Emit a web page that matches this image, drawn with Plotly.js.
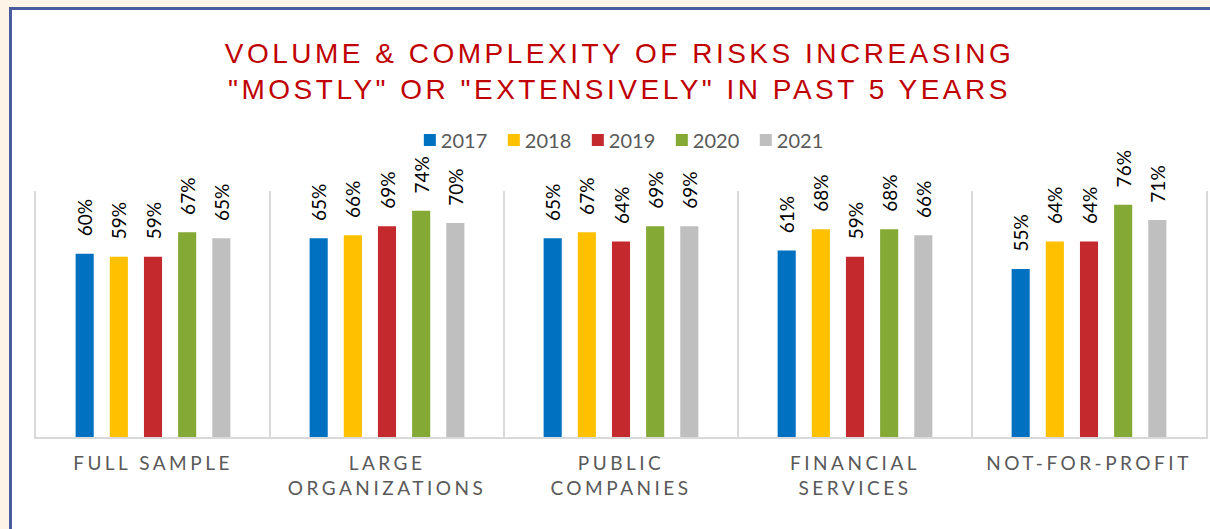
<!DOCTYPE html>
<html>
<head>
<meta charset="utf-8">
<script src="https://cdn.plot.ly/plotly-3.0.1.min.js"></script>
<style>
  html, body { margin: 0; padding: 0; width: 1210px; height: 529px; overflow: hidden; background: #fdf4e7; }
  #panel { position: absolute; left: 9px; top: 7px; width: 1210px; height: 540px; background: #ffffff;
           border-left: 3px solid #4a5b9f; border-top: 3px solid #4a5b9f; }
  #chart { position: absolute; left: 0; top: 0; width: 1210px; height: 529px; }
  #chart .gtitle { letter-spacing: 3.5px; }
  #chart .xtick text { letter-spacing: 3.5px; }
  #chart .legendtext { transform: translateX(-9px); }
</style>
</head>
<body>
<div id="panel"></div>
<div id="chart"></div>
<script>
const categories = ["FULL SAMPLE", "LARGE<br>ORGANIZATIONS", "PUBLIC<br>COMPANIES", "FINANCIAL<br>SERVICES", "NOT-FOR-PROFIT"];
const years = ["2017", "2018", "2019", "2020", "2021"];
const v2017 = [60, 65, 65, 61, 55];
const v2018 = [59, 66, 67, 68, 64];
const v2019 = [59, 69, 64, 59, 64];
const v2020 = [67, 74, 69, 68, 76];
const v2021 = [65, 70, 69, 66, 71];
const seriesValues = [v2017, v2018, v2019, v2020, v2021];
const colors = ["#0070c0", "#ffc000", "#c4292e", "#84a935", "#bfbfbf"];

const traces = years.map((y, i) => ({
  type: "bar",
  name: y,
  x: categories,
  y: seriesValues[i],
  marker: { color: colors[i] },
  text: seriesValues[i].map(v => "\u2002\u00a0" + v + "%"),
  textposition: "outside",
  textangle: -90,
  constraintext: "none",
  cliponaxis: false,
  textfont: { family: "Lato, sans-serif", size: 19, color: "#000000" },
  hoverinfo: "skip"
}));

const layout = {
  width: 1210,
  height: 529,
  paper_bgcolor: "rgba(0,0,0,0)",
  plot_bgcolor: "rgba(0,0,0,0)",
  margin: { l: 36, r: 4, t: 191, b: 92 },
  title: {
    text: "VOLUME & COMPLEXITY OF RISKS INCREASING<br>\"MOSTLY\" OR \"EXTENSIVELY\" IN PAST 5 YEARS",
    font: { family: "Liberation Sans, Arial, sans-serif", size: 28, color: "#c00000" },
    x: 0.512, xref: "container", xanchor: "center",
    y: 1 - 63 / 529, yref: "container", yanchor: "middle"
  },
  barmode: "group",
  bargap: 0.27,
  bargroupgap: 0.47,
  showlegend: true,
  legend: {
    orientation: "h",
    x: 0.499, xanchor: "center",
    y: 1 - 140 / 529, yref: "container", yanchor: "middle",
    font: { family: "Lato, sans-serif", size: 20, color: "#595959" },
    itemwidth: 30,
    entrywidth: 39,
    traceorder: "normal"
  },
  xaxis: {
    type: "category",
    tickson: "boundaries",
    showgrid: true,
    gridcolor: "#d9d9d9",
    gridwidth: 2,
    showline: true,
    linecolor: "#d9d9d9",
    linewidth: 2,
    ticks: "",
    ticklabelstandoff: 8,
    tickfont: { family: "Lato, sans-serif", size: 19, color: "#595959" },
    fixedrange: true
  },
  yaxis: {
    range: [0, 80.5],
    showgrid: false,
    zeroline: false,
    showline: true,
    mirror: true,
    linecolor: "#d9d9d9",
    linewidth: 2,
    showticklabels: false,
    ticks: "",
    fixedrange: true
  }
};

Plotly.newPlot("chart", traces, layout, { displayModeBar: false, staticPlot: true });
</script>
</body>
</html>
